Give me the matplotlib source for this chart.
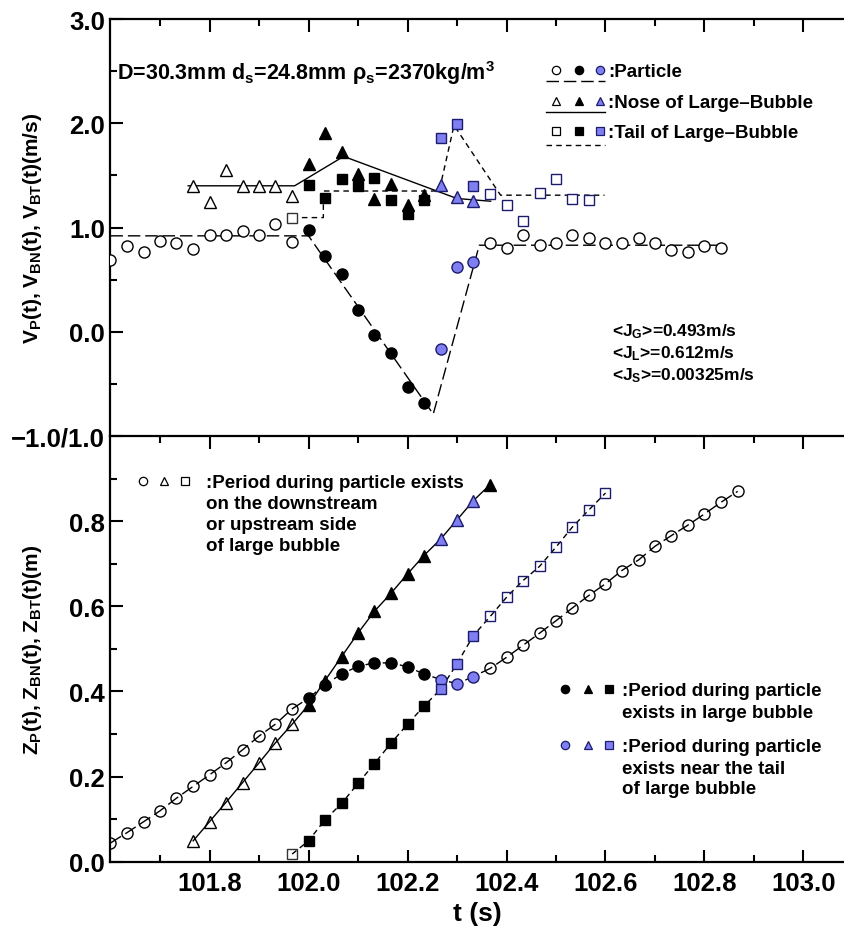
import matplotlib
matplotlib.use('Agg')
import matplotlib.pyplot as plt
from matplotlib.lines import Line2D
from matplotlib import font_manager

names = {f.name for f in font_manager.fontManager.ttflist}
NARROW = 'Liberation Sans Narrow' in names
plt.rcParams['font.family'] = ['Liberation Sans', 'DejaVu Sans']
plt.rcParams['font.weight'] = 'bold'
plt.rcParams['mathtext.fontset'] = 'custom'
plt.rcParams['mathtext.rm'] = 'Liberation Sans:bold'
plt.rcParams['mathtext.it'] = 'Liberation Sans:bold'
plt.rcParams['mathtext.bf'] = 'Liberation Sans:bold'
plt.rcParams['mathtext.default'] = 'rm'

BLUE = '#7f7ff2'
NAVY = '#1c1c6c'

# ---------------- velocity panel data ----------------
t_p_open1 = [101.600, 101.633, 101.667, 101.700, 101.733, 101.767, 101.800, 101.833, 101.867, 101.900, 101.933, 101.967]
v_p_open1 = [0.687, 0.821, 0.767, 0.869, 0.856, 0.792, 0.926, 0.926, 0.968, 0.926, 1.032, 0.863]
t_p_fill = [102.000, 102.033, 102.067, 102.100, 102.133, 102.167, 102.200, 102.233]
v_p_fill = [0.98, 0.731, 0.553, 0.206, -0.031, -0.206, -0.528, -0.684]
t_p_blue = [102.267, 102.300, 102.333]
v_p_blue = [-0.165, 0.624, 0.665]
t_p_open2v = [102.367, 102.400, 102.433, 102.467, 102.500, 102.533, 102.567, 102.600,
              102.633, 102.667, 102.700, 102.733, 102.767, 102.800, 102.833]
v_p_open2 = [0.856, 0.799, 0.926, 0.831, 0.856, 0.926, 0.895, 0.856, 0.856, 0.895, 0.856, 0.783, 0.767, 0.825, 0.799]

t_n_open = [101.767, 101.800, 101.833, 101.867, 101.900, 101.933, 101.967]
v_n_open = [1.40, 1.24, 1.55, 1.40, 1.40, 1.40, 1.30]
t_n_fill = [102.000, 102.033, 102.067, 102.100, 102.133, 102.167, 102.200, 102.233]
v_n_fill = [1.612, 1.909, 1.724, 1.517, 1.278, 1.421, 1.213, 1.316]
t_n_blue = [102.267, 102.300, 102.333]
v_n_blue = [1.411, 1.294, 1.252]

t_t_open1 = [101.967]
v_t_open1 = [1.093]
t_t_fill = [102.000, 102.033, 102.067, 102.100, 102.133, 102.167, 102.200, 102.233]
v_t_fill = [1.411, 1.284, 1.462, 1.399, 1.478, 1.261, 1.134, 1.261]
t_t_blue = [102.267, 102.300, 102.333]
v_t_blue = [1.858, 1.995, 1.395]
t_t_open2v = [102.367, 102.400, 102.433, 102.467, 102.500, 102.533, 102.567]
v_t_open2 = [1.325, 1.214, 1.064, 1.332, 1.469, 1.271, 1.261]

# fitted velocity lines (vertices)
line_p_t = [101.600, 102.000, 102.252, 102.345, 102.840]
line_p_v = [0.92, 0.92, -0.79, 0.83, 0.83]
line_n_t = [101.757, 101.972, 102.071, 102.300, 102.368]
line_n_v = [1.40, 1.40, 1.682, 1.278, 1.252]
line_t_t = [101.967, 102.030, 102.030, 102.264, 102.294, 102.388, 102.598]
line_t_v = [1.095, 1.095, 1.35, 1.35, 1.98, 1.31, 1.31]

# ---------------- position panel data ----------------
z_p_open1 = [0.044, 0.068, 0.094, 0.1195, 0.149, 0.177, 0.204, 0.232, 0.263, 0.295, 0.323, 0.359]
z_p_fill = [0.384, 0.416, 0.441, 0.459, 0.467, 0.467, 0.458, 0.441]
z_p_blue = [0.428, 0.418, 0.435]
t_p_open2z = [102.367, 102.400, 102.433, 102.467, 102.500, 102.533, 102.567, 102.600,
              102.633, 102.667, 102.700, 102.733, 102.767, 102.800, 102.833, 102.867]
z_p_open2 = [0.454, 0.480, 0.508, 0.537, 0.566, 0.596, 0.626, 0.653, 0.684, 0.709, 0.741, 0.766, 0.791, 0.817, 0.844, 0.870]

z_n_open = [0.049, 0.094, 0.139, 0.186, 0.232, 0.279, 0.323]
z_n_fill = [0.368, 0.425, 0.482, 0.537, 0.588, 0.631, 0.676, 0.719]
z_n_blue = [0.758, 0.803, 0.848]
t_n_fill2 = [102.367]
z_n_fill2 = [0.886]

z_t_open1 = [0.018]
z_t_fill = [0.049, 0.098, 0.137, 0.184, 0.230, 0.279, 0.323, 0.365]
z_t_blue = [0.405, 0.465, 0.531]
t_t_open2z = [102.367, 102.400, 102.433, 102.467, 102.500, 102.533, 102.567, 102.600]
z_t_open2 = [0.576, 0.621, 0.660, 0.694, 0.739, 0.786, 0.827, 0.866]

W, H = 845, 929
fig = plt.figure(figsize=(W / 100, H / 100), dpi=100)

def fx(x):
    return x / W

def fy(y):
    return 1 - y / H

L, R = 110.5, 845
TOP1, MID, BOT2 = 20, 437, 862.7
ax1 = fig.add_axes([fx(L), fy(MID), fx(R) - fx(L), fy(TOP1) - fy(MID)])
ax2 = fig.add_axes([fx(L), fy(BOT2), fx(R) - fx(L), fy(MID) - fy(BOT2)])

XMIN, XMAX = 101.6, 101.6 + (R - L) / 495.0
LONG = (9, 3.5)
SHORT = (4, 3)
LW = 1.0

tick_fs = 20 if NARROW else 18.5
tick_family = ['Liberation Sans Narrow', 'Liberation Sans'] if NARROW else ['Liberation Sans']

for ax in (ax1, ax2):
    ax.set_xlim(XMIN, XMAX)
    for s in ax.spines.values():
        s.set_linewidth(1.6)
    ax.spines['right'].set_visible(False)
    ax.set_xticks([101.8, 102.0, 102.2, 102.4, 102.6, 102.8, 103.0])
    ax.set_xticks([101.7, 101.9, 102.1, 102.3, 102.5, 102.7, 102.9], minor=True)
    ax.tick_params(which='both', direction='in', width=1.5, top=True, right=False)
    ax.tick_params(which='major', length=9)
    ax.tick_params(which='minor', length=5)
    ax.tick_params(axis='y', pad=4)
    ax.tick_params(axis='x', pad=7)

# ---- top panel ----
ax1.set_ylim(-1.0, 3.0)
ax1.set_yticks([0.0, 1.0, 2.0, 3.0])
ax1.set_yticklabels(['0.0', '1.0', '2.0', '3.0'])
ax1.set_yticks([-0.5, 0.5, 1.5, 2.5], minor=True)
ax1.tick_params(axis='x', which='both', bottom=False, labelbottom=False)
ax1.spines['bottom'].set_visible(False)

ax1.plot(line_p_t, line_p_v, color='black', lw=LW, dashes=LONG, zorder=2)
ax1.plot(line_n_t, line_n_v, color='black', lw=LW, zorder=2)
ax1.plot(line_t_t, line_t_v, color='black', lw=LW, dashes=SHORT, zorder=2)

MS_C, MS_T, MS_S = 8, 8.5, 7.5
mk = dict(linestyle='none', zorder=3, markeredgewidth=1.0)
ax1.plot(t_p_open1, v_p_open1, marker='o', ms=MS_C, mfc='white', mec='black', **mk)
ax1.plot(t_p_fill, v_p_fill, marker='o', ms=MS_C, mfc='black', mec='black', **mk)
ax1.plot(t_p_blue, v_p_blue, marker='o', ms=MS_C, mfc=BLUE, mec=NAVY, **mk)
ax1.plot(t_p_open2v, v_p_open2, marker='o', ms=MS_C, mfc='white', mec='black', **mk)
ax1.plot(t_n_open, v_n_open, marker='^', ms=MS_T, mfc='white', mec='black', **mk)
ax1.plot(t_n_fill, v_n_fill, marker='^', ms=MS_T, mfc='black', mec='black', **mk)
ax1.plot(t_n_blue, v_n_blue, marker='^', ms=MS_T, mfc=BLUE, mec=NAVY, **mk)
ax1.plot(t_t_open1, v_t_open1, marker='s', ms=MS_S, mfc='white', mec='#333333', **mk)
ax1.plot(t_t_fill, v_t_fill, marker='s', ms=MS_S, mfc='black', mec='black', **mk)
ax1.plot(t_t_blue, v_t_blue, marker='s', ms=MS_S, mfc=BLUE, mec=NAVY, **mk)
ax1.plot(t_t_open2v, v_t_open2, marker='s', ms=MS_S, mfc='white', mec=NAVY, **mk)

# ---- bottom panel ----
ax2.set_ylim(0.0, 1.0)
ax2.set_yticks([0.0, 0.2, 0.4, 0.6, 0.8, 1.0])
ax2.set_yticklabels(['0.0', '0.2', '0.4', '0.6', '0.8', '\u22121.0/1.0'])
ax2.set_yticks([0.1, 0.3, 0.5, 0.7, 0.9], minor=True)

tp_all = t_p_open1 + t_p_fill + t_p_blue + t_p_open2z
zp_all = z_p_open1 + z_p_fill + z_p_blue + z_p_open2
tn_all = t_n_open + t_n_fill + t_n_blue + t_n_fill2
zn_all = z_n_open + z_n_fill + z_n_blue + z_n_fill2
tt_all = t_t_open1 + t_t_fill + t_t_blue + t_t_open2z
zt_all = z_t_open1 + z_t_fill + z_t_blue + z_t_open2
ax2.plot(tp_all, zp_all, color='black', lw=LW, dashes=LONG, zorder=2)
ax2.plot(tn_all, zn_all, color='black', lw=LW, zorder=2)
ax2.plot(tt_all, zt_all, color='black', lw=LW, dashes=SHORT, zorder=2)

ax2.plot(t_p_open1, z_p_open1, marker='o', ms=MS_C, mfc='none', mec='black', **mk)
ax2.plot(t_p_fill, z_p_fill, marker='o', ms=MS_C, mfc='black', mec='black', **mk)
ax2.plot(t_p_blue, z_p_blue, marker='o', ms=MS_C, mfc=BLUE, mec=NAVY, **mk)
ax2.plot(t_p_open2z, z_p_open2, marker='o', ms=MS_C, mfc='none', mec='black', **mk)
ax2.plot(t_n_open, z_n_open, marker='^', ms=MS_T, mfc='none', mec='black', **mk)
ax2.plot(t_n_fill, z_n_fill, marker='^', ms=MS_T, mfc='black', mec='black', **mk)
ax2.plot(t_n_blue, z_n_blue, marker='^', ms=MS_T, mfc=BLUE, mec=NAVY, **mk)
ax2.plot(t_n_fill2, z_n_fill2, marker='^', ms=MS_T, mfc='black', mec='black', **mk)
ax2.plot(t_t_open1, z_t_open1, marker='s', ms=MS_S, mfc='none', mec='#333333', **mk)
ax2.plot(t_t_fill, z_t_fill, marker='s', ms=MS_S, mfc='black', mec='black', **mk)
ax2.plot(t_t_blue, z_t_blue, marker='s', ms=MS_S, mfc=BLUE, mec=NAVY, **mk)
ax2.plot(t_t_open2z, z_t_open2, marker='s', ms=MS_S, mfc='none', mec=NAVY, **mk)

for ax in (ax1, ax2):
    for lab in ax.get_xticklabels() + ax.get_yticklabels():
        lab.set_fontfamily(tick_family)
        lab.set_fontsize(tick_fs)
        lab.set_fontweight('bold')

ax2.set_xlabel('t (s)', fontsize=19, fontweight='bold', labelpad=4)

# axis titles
fig.text(fx(33), fy(228), r'V$_P$(t), V$_{BN}$(t), V$_{BT}$(t)(m/s)', rotation=90,
         ha='center', va='center', fontsize=15, fontweight='bold')
fig.text(fx(33), fy(650), r'Z$_P$(t), Z$_{BN}$(t), Z$_{BT}$(t)(m)', rotation=90,
         ha='center', va='center', fontsize=15, fontweight='bold')

# ---- annotations (figure-pixel placement) ----
TXT = 13.5
fig.text(fx(117), fy(73), r'D=30.3mm d$_s$=24.8mm ρ$_s$=2370kg/m$^3$', ha='left', va='center',
         fontsize=15.5, fontweight='bold')

def key_row(xs, y, markers, line_style, text, text_x, line_y=None, lx=(545, 604), ms=6):
    for x, (m, fc, ec) in zip(xs, markers):
        fig.add_artist(Line2D([fx(x)], [fy(y)], marker=m, ms=ms, mfc=fc, mec=ec, mew=0.9,
                              linestyle='none', transform=fig.transFigure))
    if line_y is not None:
        kw = dict(color='black', lw=1.0, transform=fig.transFigure)
        if line_style is not None:
            kw['dashes'] = line_style
        fig.add_artist(Line2D([fx(lx[0]), fx(lx[1])], [fy(line_y), fy(line_y)], **kw))
    fig.text(fx(text_x), fy(y + 2), text, ha='left', va='center', fontsize=TXT, fontweight='bold')

kx = [556, 578.7, 600.3]
key_row(kx, 70.7, [('o', 'white', 'black'), ('o', 'black', 'black'), ('o', BLUE, NAVY)],
        LONG, ':Particle', 608, line_y=82.3, lx=(546, 605))
key_row(kx, 101.7, [('^', 'white', 'black'), ('^', 'black', 'black'), ('^', BLUE, NAVY)],
        None, ':Nose of Large\u2013Bubble', 608, line_y=113.3, lx=(546, 605))
key_row(kx, 131.7, [('s', 'white', 'black'), ('s', 'black', 'black'), ('s', BLUE, NAVY)],
        SHORT, ':Tail of Large\u2013Bubble', 608, line_y=145.7, lx=(546, 605))

# J values
fig.text(fx(612), fy(332), r'<J$_G$>=0.493m/s', ha='left', va='center', fontsize=12.5, fontweight='bold')
fig.text(fx(612), fy(354), r'<J$_L$>=0.612m/s', ha='left', va='center', fontsize=12.5, fontweight='bold')
fig.text(fx(612), fy(376), r'<J$_S$>=0.00325m/s', ha='left', va='center', fontsize=12.5, fontweight='bold')

# bottom legends
key_row([142.7, 164, 185], 481.7, [('o', 'white', 'black'), ('^', 'white', 'black'), ('s', 'white', 'black')],
        None, ':Period during particle exists', 206)
for i, s in enumerate(['on the downstream', 'or upstream side', 'of large bubble']):
    fig.text(fx(206), fy(483.7 + 21 * (i + 1)), s, ha='left', va='center', fontsize=TXT, fontweight='bold')

key_row([565, 588, 609], 690, [('o', 'black', 'black'), ('^', 'black', 'black'), ('s', 'black', 'black')],
        None, ':Period during particle', 622)
fig.text(fx(622), fy(713), 'exists in large bubble', ha='left', va='center', fontsize=TXT, fontweight='bold')
key_row([565, 588, 609], 746, [('o', BLUE, NAVY), ('^', BLUE, NAVY), ('s', BLUE, NAVY)],
        None, ':Period during particle', 622)
fig.text(fx(622), fy(769), 'exists near the tail', ha='left', va='center', fontsize=TXT, fontweight='bold')
fig.text(fx(622), fy(790), 'of large bubble', ha='left', va='center', fontsize=TXT, fontweight='bold')

fig.savefig('out.png', dpi=100)
